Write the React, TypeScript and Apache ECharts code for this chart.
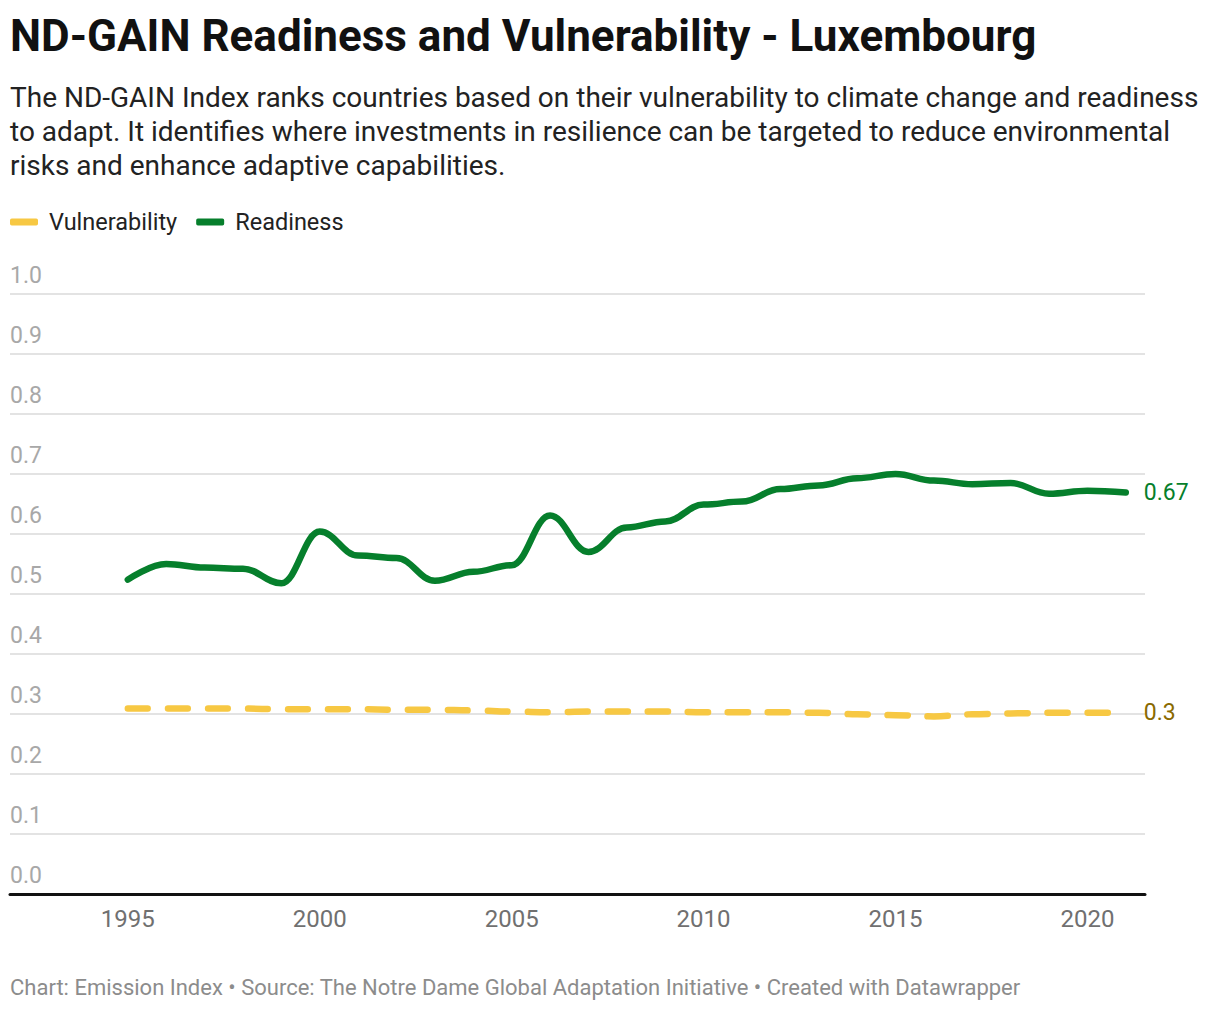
import React, { useEffect, useRef } from "react";
import * as echarts from "echarts";

const years: number[] = [
  1995, 1996, 1997, 1998, 1999, 2000, 2001, 2002, 2003, 2004, 2005, 2006, 2007,
  2008, 2009, 2010, 2011, 2012, 2013, 2014, 2015, 2016, 2017, 2018, 2019, 2020, 2021,
];
const readiness: number[] = [
  0.524, 0.55, 0.544, 0.542, 0.518, 0.604, 0.564, 0.56, 0.522, 0.537, 0.548, 0.631, 0.57,
  0.611, 0.621, 0.649, 0.654, 0.675, 0.681, 0.693, 0.7, 0.689, 0.683, 0.685, 0.667, 0.672, 0.669,
];
const vulnerability: number[] = [
  0.309, 0.309, 0.309, 0.309, 0.308, 0.308, 0.308, 0.307, 0.307, 0.306, 0.304, 0.303, 0.304,
  0.304, 0.304, 0.303, 0.303, 0.303, 0.302, 0.2995, 0.298, 0.296, 0.2995, 0.301, 0.302, 0.302, 0.302,
];
const xTickLabels: number[] = [1995, 2000, 2005, 2010, 2015, 2020];
const readinessEndLabel = "0.67";
const vulnerabilityEndLabel = "0.3";

const titleText = "ND-GAIN Readiness and Vulnerability - Luxembourg";
const subtitleText =
  "The ND-GAIN Index ranks countries based on their vulnerability to climate change and readiness\nto adapt. It identifies where investments in resilience can be targeted to reduce environmental\nrisks and enhance adaptive capabilities.";
const footerText =
  "Chart: Emission Index • Source: The Notre Dame Global Adaptation Initiative • Created with Datawrapper";

const GREEN = "#067f2c";
const YELLOW = "#f7c843";
const FONT = "Roboto";

export default function App() {
  const ref = useRef<HTMLDivElement>(null);
  useEffect(() => {
    document.body.style.margin = "0";
    const chart = echarts.init(ref.current!, null, { renderer: "svg" });
    chart.setOption({
      animation: false,
      backgroundColor: "#ffffff",
      textStyle: { fontFamily: FONT },
      title: [
        {
          text: titleText,
          left: 10,
          top: 12,
          padding: 0,
          textStyle: { fontFamily: FONT, fontWeight: "bold", fontSize: 44, color: "#111111", lineHeight: 48 },
        },
        {
          text: subtitleText,
          left: 10,
          top: 80,
          padding: 0,
          textStyle: { fontFamily: FONT, fontWeight: "normal", fontSize: 28, color: "#222222", lineHeight: 34 },
        },
        {
          text: footerText,
          left: 10,
          top: 974,
          padding: 0,
          textStyle: { fontFamily: FONT, fontWeight: "normal", fontSize: 22, color: "#8c8c8c", lineHeight: 26 },
        },
      ],
      legend: {
        left: 10,
        top: 210,
        padding: 0,
        itemGap: 19,
        itemWidth: 28,
        itemHeight: 7,
        icon: "roundRect",
        textStyle: { fontFamily: FONT, fontSize: 23.5, color: "#222222", padding: [0, 0, 0, 6] },
        data: ["Vulnerability", "Readiness"],
      },
      grid: { left: 10, right: 75, top: 294, bottom: 116, containLabel: false },
      xAxis: {
        type: "value",
        min: 1991.93,
        max: 2021.5,
        axisLine: { show: true, onZero: false, lineStyle: { color: "#111111", width: 3 } },
        axisTick: { show: false },
        splitLine: { show: false },
        axisLabel: {
          customValues: xTickLabels,
          formatter: (v: number) => String(v),
          fontFamily: FONT,
          fontSize: 24,
          color: "#707070",
          margin: 13,
        },
      },
      yAxis: {
        type: "value",
        min: 0,
        max: 1,
        interval: 0.1,
        axisLine: { show: false },
        axisTick: { show: false },
        splitLine: { show: true, lineStyle: { color: "#e3e3e3", width: 2 } },
        axisLabel: {
          inside: true,
          margin: 0,
          align: "left",
          verticalAlign: "bottom",
          padding: [0, 0, 7, 0],
          formatter: (v: number) => v.toFixed(1),
          fontFamily: FONT,
          fontSize: 23,
          color: "#a8a8a8",
        },
      },
      series: [
        {
          name: "Vulnerability",
          type: "line",
          data: years.map((y, i) => [y, vulnerability[i]]),
          showSymbol: false,
          symbol: "none",
          smooth: 0.4,
          smoothMonotone: "x",
          color: YELLOW,
          lineStyle: { color: YELLOW, width: 6.5, type: [20, 20], cap: "round" },
          endLabel: {
            show: true,
            formatter: () => vulnerabilityEndLabel,
            fontFamily: FONT,
            fontSize: 23,
            color: "#8a6a00",
            distance: 18,
          },
          z: 2,
        },
        {
          name: "Readiness",
          type: "line",
          data: years.map((y, i) => [y, readiness[i]]),
          showSymbol: false,
          symbol: "none",
          smooth: 0.4,
          smoothMonotone: "x",
          color: GREEN,
          lineStyle: { color: GREEN, width: 6.5, cap: "round", join: "round" },
          endLabel: {
            show: true,
            formatter: () => readinessEndLabel,
            fontFamily: FONT,
            fontSize: 23,
            color: GREEN,
            distance: 18,
          },
          z: 3,
        },
      ],
    });
    return () => chart.dispose();
  }, []);
  return <div ref={ref} style={{ width: 1220, height: 1010 }} />;
}
